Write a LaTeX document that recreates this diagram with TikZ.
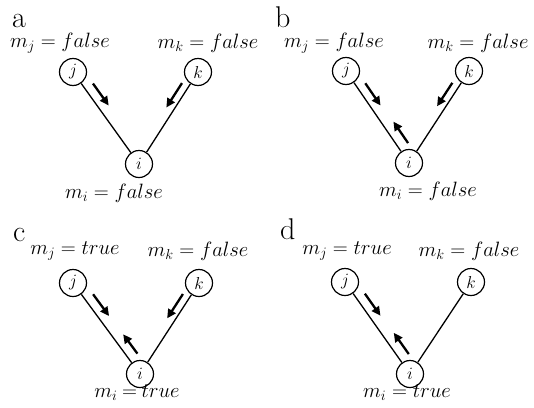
\documentclass[tikz,border=0pt]{standalone}
\usetikzlibrary{calc,arrows.meta}
\tikzset{
  vnode/.style={circle,draw,line width=1.2pt,minimum size=27pt,inner sep=0pt,font=\fontsize{17}{17}\selectfont},
  edge/.style={line width=1.3pt},
  msg/.style={line width=2.3pt,-{Triangle[length=9pt,width=8.5pt]}},
  lbl/.style={font=\fontsize{20}{22}\selectfont,inner sep=0pt},
  panel/.style={font=\fontsize{30}{32}\selectfont,inner sep=0pt,anchor=base west}
}
\newcommand\msgarrow[6]{%
  \draw[msg] ($(#1)!#3!(#2)!#6!#5:(#2)$) -- ($(#1)!#4!(#2)!#6!#5:(#2)$);}
\begin{document}
\begin{tikzpicture}[x=1pt,y=-1pt]
\useasboundingbox (0,0) rectangle (534,407);
% ---------- a ----------
\node[panel] (pa) at (12,27) {a};
\begin{scope}[shift={(73,72)}]
  \node[vnode] (aj) at (0,0) {$j$};
  \node[vnode] (ak) at (125,0) {$k$};
  \node[vnode] (ai) at (66,92) {$i$};
  \node[lbl] (amj) at (-13,-29) {$m_j = false$};
  \node[lbl] (amk) at (135,-29) {$m_k = false$};
  \node[lbl] (ami) at (41,121) {$m_i = false$};
  \draw[edge] (aj) -- (ai);
  \draw[edge] (ak) -- (ai);
  \msgarrow{aj}{ai}{21pt}{48pt}{90}{9.5pt}
  \msgarrow{ak}{ai}{18pt}{47pt}{-90}{7.5pt}
\end{scope}
% ---------- b ----------
\node[panel] (pb) at (275,27) {b};
\begin{scope}[shift={(346,71)}]
  \node[vnode] (bj) at (0,0) {$j$};
  \node[vnode] (bk) at (123,0) {$k$};
  \node[vnode] (bi) at (63,92) {$i$};
  \node[lbl] (bmj) at (-12,-28) {$m_j = false$};
  \node[lbl] (bmk) at (132,-28) {$m_k = false$};
  \node[lbl] (bmi) at (82,120) {$m_i = false$};
  \draw[edge] (bj) -- (bi);
  \draw[edge] (bk) -- (bi);
  \msgarrow{bj}{bi}{21pt}{48pt}{90}{9pt}
  \msgarrow{bk}{bi}{19pt}{47pt}{-90}{7.5pt}
  \msgarrow{bi}{bj}{17pt}{43pt}{-90}{10.5pt}
\end{scope}
% ---------- c ----------
\node[panel] (pc) at (13,241) {c};
\begin{scope}[shift={(73,283)}]
  \node[vnode] (cj) at (0,0) {$j$};
  \node[vnode] (ck) at (126,0) {$k$};
  \node[vnode] (ci) at (67,91) {$i$};
  \node[lbl] (cmj) at (2,-32) {$m_j = true$};
  \node[lbl] (cmk) at (125,-32) {$m_k = false$};
  \node[lbl] (cmi) at (64,110) {$m_i\mskip-1mu=\mskip-1mu true$};
  \draw[edge] (cj) -- (ci);
  \draw[edge] (ck) -- (ci);
  \msgarrow{cj}{ci}{21pt}{48pt}{90}{9.5pt}
  \msgarrow{ck}{ci}{18pt}{47pt}{-90}{7.5pt}
  \msgarrow{ci}{cj}{18pt}{42pt}{-90}{10pt}
\end{scope}
% ---------- d ----------
\node[panel] (pd) at (280,239) {d};
\begin{scope}[shift={(345,282)}]
  \node[vnode] (dj) at (0,0) {$j$};
  \node[vnode] (dk) at (126,0) {$k$};
  \node[vnode] (di) at (65,92) {$i$};
  \node[lbl] (dmj) at (2,-31) {$m_j = true$};
  \node[lbl] (dmk) at (124,-31) {$m_k = false$};
  \node[lbl] (dmi) at (62,111) {$m_i = true$};
  \draw[edge] (dj) -- (di);
  \draw[edge] (dk) -- (di);
  \msgarrow{dj}{di}{21pt}{48pt}{90}{9.5pt}
  \msgarrow{di}{dj}{17pt}{43pt}{-90}{10.5pt}
\end{scope}
\end{tikzpicture}
\end{document}
